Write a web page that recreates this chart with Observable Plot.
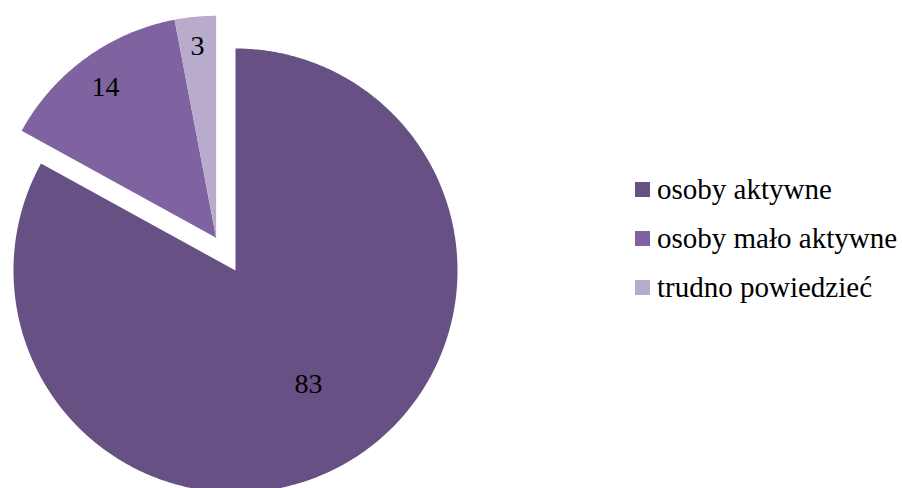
<!DOCTYPE html>
<html>
<head>
<meta charset="utf-8">
<script src="https://cdn.jsdelivr.net/npm/d3@7"></script>
<script src="https://cdn.jsdelivr.net/npm/@observablehq/plot@0.6"></script>
<style>
  html, body { margin: 0; padding: 0; background: #fff; }
</style>
</head>
<body>
<div id="chart" style="position:relative;width:902px;height:488px;overflow:hidden;"></div>
<script>
const categories = ["osoby aktywne", "osoby mało aktywne", "trudno powiedzieć"];
const values = [83, 14, 3];
const colors = ["#675084", "#7f63a0", "#b8abcb"];
const exploded = [false, true, true];

const W = 902, H = 488;
const cx = 235, cy = 270, R = 222, offset = 38;
const FONT = "'Liberation Serif', 'Times New Roman', serif";

const pie = d3.pie().sort(null).value(d => d.value)(categories.map((c, i) => ({category: c, value: values[i], color: colors[i], exploded: exploded[i]})));
const exArcs = pie.filter(a => a.data.exploded);
const exMid = (d3.min(exArcs, a => a.startAngle) + d3.max(exArcs, a => a.endAngle)) / 2;

const rows = [];
const labels = [];
pie.forEach(a => {
  const ox = a.data.exploded ? Math.sin(exMid) * offset : 0;
  const oy = a.data.exploded ? -Math.cos(exMid) * offset : 0;
  const n = Math.max(2, Math.ceil((a.endAngle - a.startAngle) / 0.01));
  const pts = [[ox, oy]];
  for (let k = 0; k <= n; k++) {
    const t = a.startAngle + (a.endAngle - a.startAngle) * k / n;
    pts.push([Math.sin(t) * R + ox, -Math.cos(t) * R + oy]);
  }
  rows.push({category: a.data.category, color: a.data.color, pts});
  labels.push({text: String(a.data.value)});
});

// label positions as placed in the reference
labels[0].x = 308 - cx; labels[0].y = 384 - cy;
labels[1].x = 105 - cx; labels[1].y = 87 - cy;
labels[2].x = 197 - cx; labels[2].y = 46 - cy;

const plot = Plot.plot({
  width: W,
  height: H,
  margin: 0,
  x: {domain: [-cx, W - cx], range: [0, W], axis: null},
  y: {domain: [-cy, H - cy], range: [0, H], axis: null},
  style: {background: "transparent", fontFamily: FONT},
  marks: [
    rows.map(r => Plot.line(r.pts, {x: d => d[0], y: d => d[1], fill: r.color, stroke: null, curve: "linear-closed"})),
    Plot.text(labels, {x: "x", y: "y", text: "text", fontSize: 28, fontFamily: FONT, fill: "#000"})
  ]
});
plot.style.position = "absolute";
plot.style.left = "0px";
plot.style.top = "0px";
document.getElementById("chart").appendChild(plot);

const legend = document.createElement("div");
legend.style.cssText = "position:absolute;left:635px;top:165px;font-family:" + FONT + ";font-size:29px;color:#000;";
categories.forEach((c, i) => {
  const row = document.createElement("div");
  row.style.cssText = "display:flex;align-items:center;height:49px;white-space:nowrap;";
  const sw = document.createElement("span");
  sw.style.cssText = "width:15px;height:15px;margin-right:7px;flex:none;background:" + colors[i] + ";";
  const tx = document.createElement("span");
  tx.textContent = c;
  row.appendChild(sw); row.appendChild(tx);
  legend.appendChild(row);
});
document.getElementById("chart").appendChild(legend);
</script>
</body>
</html>
